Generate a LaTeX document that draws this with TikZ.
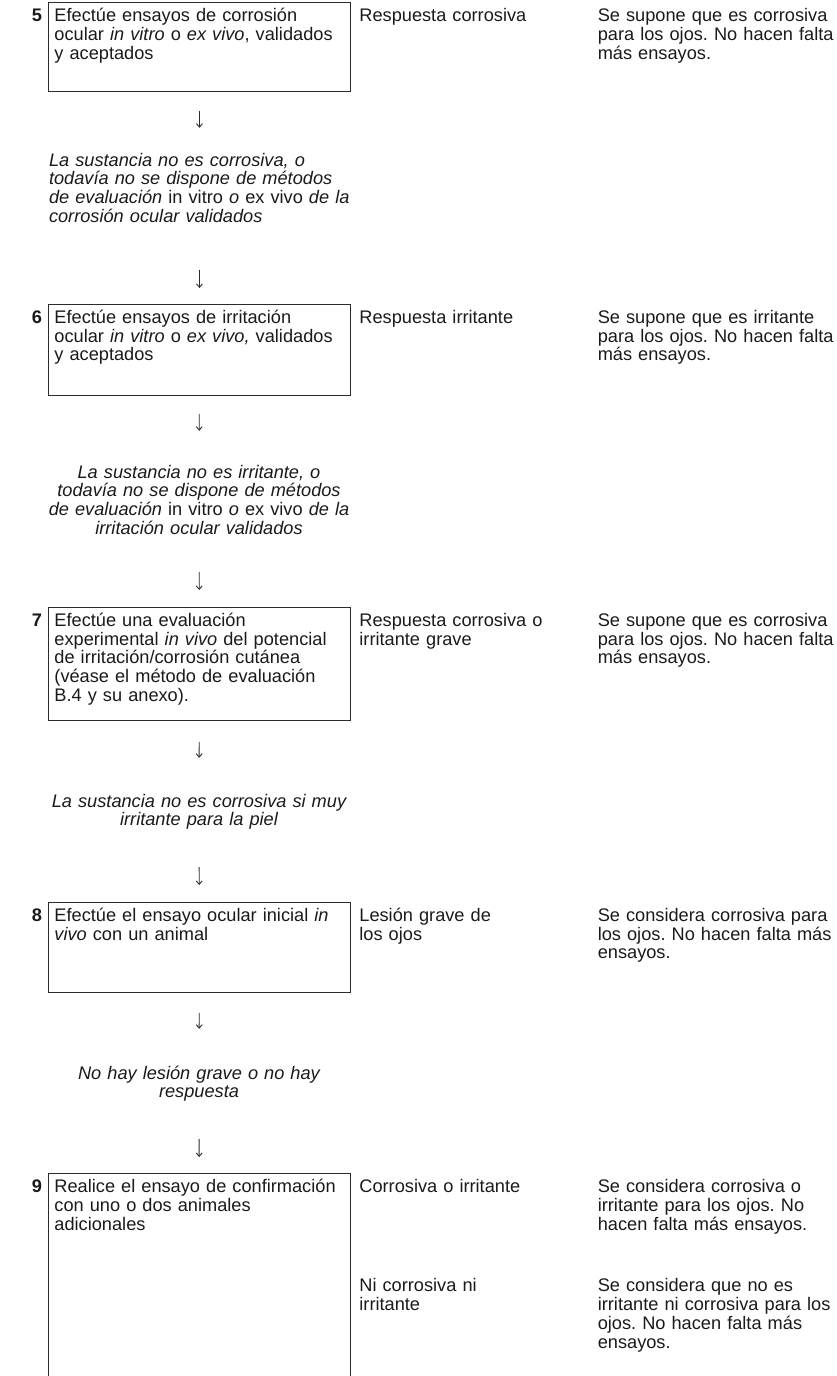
\documentclass[tikz,border=0pt]{standalone}
\usepackage{fontspec}
\setmainfont{Liberation Sans}
\usetikzlibrary{arrows.meta}
\definecolor{ink}{HTML}{1A1A1A}
\definecolor{rule}{HTML}{2B2B2B}
\frenchspacing

\begin{document}
\begin{tikzpicture}[
  x=1pt, y=-1pt,
  every node/.style={inner sep=0pt, text=ink, font=\fontsize{18.2}{18.7}\selectfont},
  stepbox/.style={draw=rule, line width=0.9pt, anchor=north west, text width=290pt, align=left, inner xsep=6pt, inner ysep=0pt, text height=19.5pt},
  stepnum/.style={anchor=base, font=\fontsize{18.2}{18.7}\selectfont\bfseries},
  outcome/.style={anchor=base west, text width=232pt, align=left},
  verdict/.style={anchor=base west, text width=239pt, align=left},
  note/.style={anchor=base, text width=304pt, align=center, text height=14pt, font=\fontsize{18.2}{18.7}\selectfont\itshape},
  flow/.style={rule, line width=0.9pt, -{Straight Barb[length=3.5pt, width=6pt]}}
]
  \useasboundingbox (0,0) rectangle (836,1376);
  \clip (0,0) rectangle (836,1376);

  % step 5
  \node[stepbox, text depth=69.5pt] (b5) at (48,2) {Efectúe ensayos de corrosión\\ ocular \textit{in vitro} o \textit{ex vivo}, validados\\ y aceptados};
  \node[stepnum] (n5) at ([xshift=-11pt]b5.base west) {5};
  \node[outcome] (r5) at ([xshift=8.3pt]b5.base east) {Respuesta corrosiva};
  \node[verdict] (c5) at ([xshift=246.7pt]b5.base east) {Se supone que es corrosiva\\ para los ojos. No hacen falta\\ más ensayos.};
  \node[note, align=left, text depth=60pt] (i5) at (201,166) {La sustancia no es corrosiva, o\\ todavía no se dispone de métodos\\ de evaluación \textup{in vitro} o \textup{ex vivo} de la\\ corrosión ocular validados};

  % step 6
  \node[stepbox, text depth=71.5pt] (b6) at (48,303.5) {Efectúe ensayos de irritación\\ ocular \textit{in vitro} o \textit{ex vivo,} validados\\ y aceptados};
  \node[stepnum] (n6) at ([xshift=-11pt]b6.base west) {6};
  \node[outcome] (r6) at ([xshift=8.3pt]b6.base east) {Respuesta irritante};
  \node[verdict] (c6) at ([xshift=246.7pt]b6.base east) {Se supone que es irritante\\ para los ojos. No hacen falta\\ más ensayos.};
  \node[note, text depth=60pt] (i6) at (199,478) {La sustancia no es irritante, o\\ todavía no se dispone de métodos\\ de evaluación \textup{in vitro} o \textup{ex vivo} de la\\ irritación ocular validados};

  % step 7
  \node[stepbox, text depth=94pt] (b7) at (48,606.5) {Efectúe una evaluación\\ experimental \textit{in vivo} del potencial\\ de irritación/corrosión cutánea\\ (véase el método de evaluación\\ B.4 y su anexo).};
  \node[stepnum] (n7) at ([xshift=-11pt]b7.base west) {7};
  \node[outcome] (r7) at ([xshift=8.3pt]b7.base east) {Respuesta corrosiva o\\ irritante grave};
  \node[verdict] (c7) at ([xshift=246.7pt]b7.base east) {Se supone que es corrosiva\\ para los ojos. No hacen falta\\ más ensayos.};
  \node[note, text depth=22.7pt] (i7) at (199,807) {La sustancia no es corrosiva si muy\\ irritante para la piel};

  % step 8
  \node[stepbox, text depth=70.5pt] (b8) at (48,901.5) {Efectúe el ensayo ocular inicial \textit{in}\\ \textit{vivo} con un animal};
  \node[stepnum] (n8) at ([xshift=-11pt]b8.base west) {8};
  \node[outcome] (r8) at ([xshift=8.3pt]b8.base east) {Lesión grave de\\ los ojos};
  \node[verdict] (c8) at ([xshift=246.7pt]b8.base east) {Se considera corrosiva para\\ los ojos. No hacen falta más\\ ensayos.};
  \node[note, text depth=22.7pt] (i8) at (199,1079) {No hay lesión grave o no hay\\ respuesta};

  % step 9 (box runs off the page)
  \node[stepbox, text depth=197.5pt] (b9) at (48,1173) {Realice el ensayo de confirmación\\ con uno o dos animales\\ adicionales};
  \node[stepnum] (n9) at ([xshift=-11pt]b9.base west) {9};
  \node[outcome] (r9a) at ([xshift=8.3pt]b9.base east) {Corrosiva o irritante};
  \node[verdict] (c9a) at ([xshift=246.7pt]b9.base east) {Se considera corrosiva o\\ irritante para los ojos. No\\ hacen falta más ensayos.};
  \node[outcome] (r9b) at ([yshift=-99pt]r9a.base west) {Ni corrosiva ni\\ irritante};
  \node[verdict] (c9b) at ([yshift=-99pt]c9a.base west) {Se considera que no es\\ irritante ni corrosiva para los\\ ojos. No hacen falta más\\ ensayos.};

  % down arrows
  \draw[flow, shorten <=19pt, shorten >=24pt] (b5.south) -- (b5.south |- i5.north);
  \draw[flow, shorten <=44pt, shorten >=15.5pt] (b6.north |- i5.south) -- (b6.north);
  \draw[flow, shorten <=18.5pt, shorten >=33pt] (b6) -- (i6);
  \draw[flow, shorten <=34pt, shorten >=16.5pt] (i6) -- (b7);
  \draw[flow, shorten <=21pt, shorten >=35pt] (b7) -- (i7);
  \draw[flow, shorten <=37.3pt, shorten >=16.5pt] (i7) -- (b8);
  \draw[flow, shorten <=20.5pt, shorten >=36pt] (b8) -- (i8);
  \draw[flow, shorten <=37.3pt, shorten >=16pt] (i8) -- (b9);
\end{tikzpicture}
\end{document}
